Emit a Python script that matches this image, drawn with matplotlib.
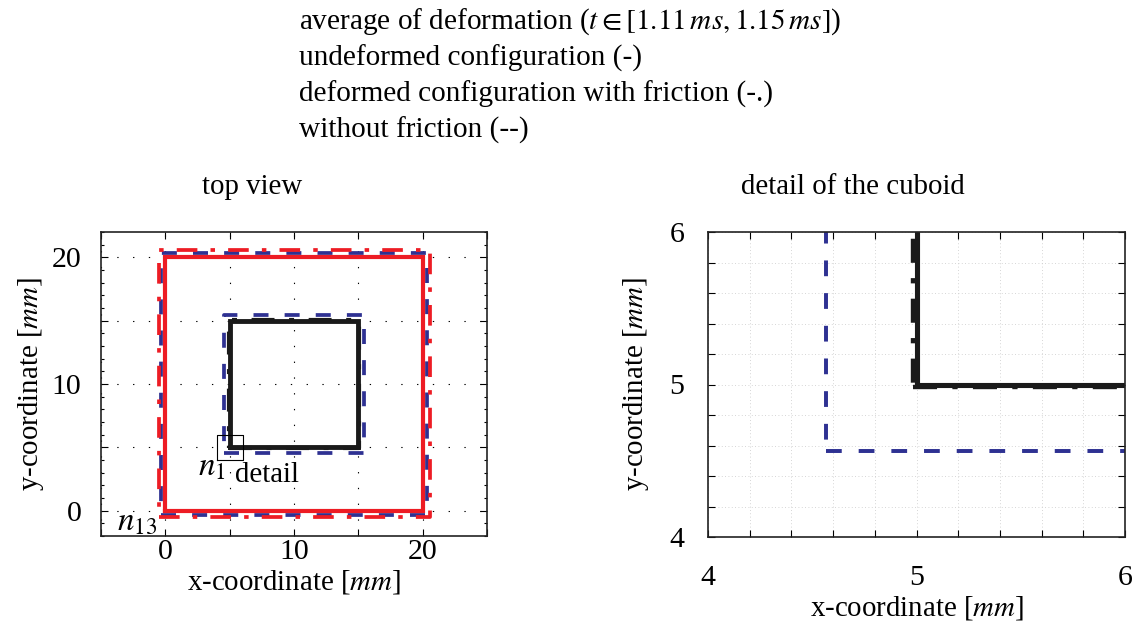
import matplotlib
matplotlib.use("Agg")
import matplotlib.pyplot as plt
from matplotlib.ticker import MultipleLocator, FuncFormatter

plt.rcParams['font.family'] = ['Liberation Serif', 'DejaVu Serif']
plt.rcParams['mathtext.fontset'] = 'stix'

# ---------------- data (bounds: xmin, xmax, ymin, ymax) in mm ----------------
frame_undeformed = [0.0, 20.0, 0.0, 20.0]
frame_friction = [-0.5, 20.55, -0.5, 20.55]
frame_nofriction = [-0.35, 20.37, -0.38, 20.37]
cuboid_undeformed = [5.0, 15.0, 5.0, 15.0]
cuboid_friction = [4.985, 15.015, 4.985, 15.015]
cuboid_nofriction = [4.567, 15.43, 4.567, 15.43]

top_xlim = [-5, 25]
top_ylim = [-2, 22]
detail_xlim = [4, 6]
detail_ylim = [4, 6]

header_lines = [
    r"average of deformation ($t \in [1.11\,ms, 1.15\,ms]$)",
    "undeformed configuration (-)",
    "deformed configuration with friction (-.)",
    "without friction (--)",
]

RED = "#ed1c24"
BLUE = "#2e3192"
BLACK = "#1a1a1a"
FS = 20.8
HFS = 21.1
TFS = 21.5


def rect(b):
    x0, x1, y0, y1 = b
    return [x0, x1, x1, x0, x0], [y0, y0, y1, y1, y0]


W, H = 1137, 630
fig = plt.figure(figsize=(W / 100, H / 100), dpi=100)

ax1 = fig.add_axes([101 / W, 1 - 536 / H, 386 / W, 304 / H])
ax2 = fig.add_axes([708 / W, 1 - 537 / H, 417 / W, 305 / H])

dash_style = dict(dashes=(4.0, 4.3), dash_capstyle='butt')
dd_style = dict(dashes=(5.5, 3.5, 1.2, 3.5), dash_capstyle='butt')


def draw(ax, lwscale=1.0):
    ax.plot(*rect(frame_nofriction), color=BLUE, lw=2.7 * lwscale, **dash_style)
    ax.plot(*rect(frame_friction), color=RED, lw=2.7 * lwscale, **dd_style)
    ax.plot(*rect(frame_undeformed), color=RED, lw=3.0 * lwscale, solid_joinstyle='miter')
    ax.plot(*rect(cuboid_nofriction), color=BLUE, lw=2.7 * lwscale, **dash_style)
    ax.plot(*rect(cuboid_friction), color=BLACK, lw=3.0 * lwscale, **dd_style)
    ax.plot(*rect(cuboid_undeformed), color=BLACK, lw=3.5 * lwscale, solid_joinstyle='miter')


# ---------------- left: top view ----------------
draw(ax1)
ax1.plot(*rect(detail_xlim + detail_ylim), color='black', lw=0.8)
ax1.set_xlim(top_xlim)
ax1.set_ylim(top_ylim)
ax1.xaxis.set_major_locator(MultipleLocator(5))
ax1.yaxis.set_major_locator(MultipleLocator(5))
ax1.yaxis.set_minor_locator(MultipleLocator(1))
lab10 = FuncFormatter(lambda v, p: f"{v:.0f}" if abs(v / 10 - round(v / 10)) < 1e-6 else "")
ax1.xaxis.set_major_formatter(lab10)
ax1.yaxis.set_major_formatter(lab10)
ax1.tick_params(which='both', direction='in', top=True, right=True, labelsize=TFS)
ax1.tick_params(which='major', length=5, width=0.8)
ax1.tick_params(which='minor', length=2.5, width=0.8)
ax1.tick_params(axis='x', pad=2)
ax1.tick_params(axis='y', pad=14)
ax1.grid(True, which='major', color='black', lw=0.8, linestyle=(0, (1.2, 13)))
ax1.set_xlabel(r"x-coordinate [$mm$]", fontsize=FS, labelpad=2)
ax1.set_ylabel(r"y-coordinate [$mm$]", fontsize=FS, labelpad=4)
for s in ax1.spines.values():
    s.set_linewidth(1.2)
    s.set_color('#222222')

ax1.text(3.6, 3.4, r"$n_1$", fontsize=FS + 3, ha='center', va='center')
ax1.text(7.9, 2.8, "detail", fontsize=FS, ha='center', va='center')
ax1.text(-2.2, -0.9, r"$n_{13}$", fontsize=FS + 3, ha='center', va='center')

# ---------------- right: detail ----------------
draw(ax2, 1.05)
ax2.set_xlim(detail_xlim)
ax2.set_ylim(detail_ylim)
ax2.xaxis.set_major_locator(MultipleLocator(0.2))
ax2.yaxis.set_major_locator(MultipleLocator(0.2))
lab1 = FuncFormatter(lambda v, p: f"{v:.0f}" if abs(v - round(v)) < 1e-6 else "")
ax2.xaxis.set_major_formatter(lab1)
ax2.yaxis.set_major_formatter(lab1)
ax2.tick_params(which='both', direction='in', top=True, right=True, labelsize=TFS,
                length=5, width=0.8)
ax2.tick_params(axis='x', pad=20)
ax2.tick_params(axis='y', pad=17)
ax2.grid(True, which='major', color='#c8c8c8', lw=0.6, linestyle=(0, (1, 3)))
ax2.set_xlabel(r"x-coordinate [$mm$]", fontsize=FS, labelpad=2)
ax2.set_ylabel(r"y-coordinate [$mm$]", fontsize=FS, labelpad=13)
for s in ax2.spines.values():
    s.set_linewidth(1.2)
    s.set_color('#222222')

# ---------------- titles / header ----------------
fig.text(252 / W, 1 - 187 / H, "top view", fontsize=FS, ha='center', va='center')
fig.text(853 / W, 1 - 187 / H, "detail of the cuboid", fontsize=FS, ha='center', va='center')
for i, line in enumerate(header_lines):
    fig.text(299 / W, 1 - (22 + 36 * i) / H, line, fontsize=HFS, ha='left', va='center')

fig.savefig("out.png", dpi=100)
